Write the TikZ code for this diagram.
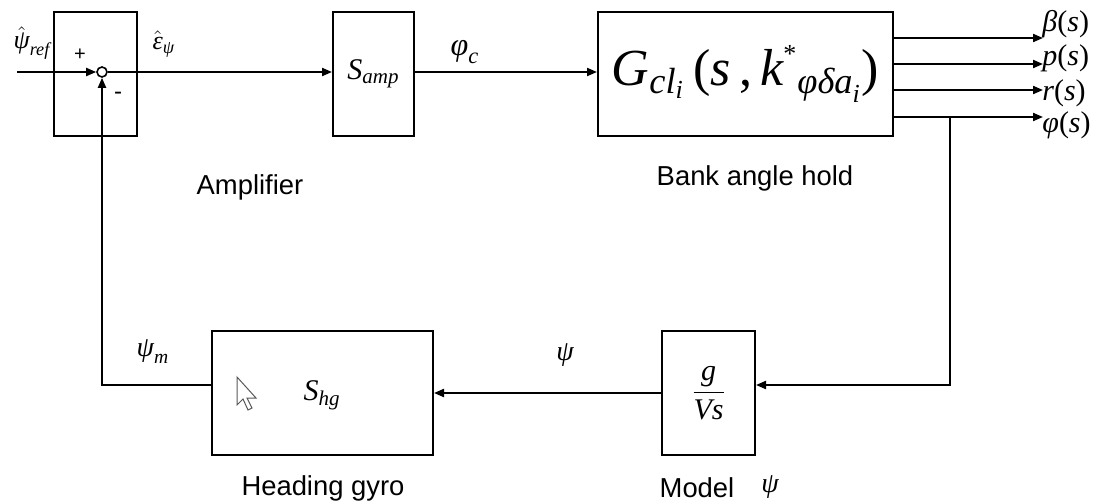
\documentclass[tikz,border=0pt]{standalone}
\usepackage{amsmath}
\usepackage{fontspec}
\setmainfont{Liberation Sans}
\newfontfamily\tms{Liberation Serif}
\newcommand\mi[1]{\text{\tms\itshape #1}}
\newcommand\mr[1]{\text{\tms #1}}
\usetikzlibrary{arrows.meta}
\begin{document}
\begin{tikzpicture}[x=0.5pt,y=-0.5pt,
  blk/.style={draw,line width=1pt,inner sep=0pt,minimum height=62pt},
  arr/.style={line width=1pt,-{Triangle[length=5pt,width=4pt]}},
  lbl/.style={inner sep=0pt,font=\fontsize{13.7}{16}\selectfont},
  mlbl/.style={inner sep=0pt,font=\fontsize{13}{15}\selectfont},
  olbl/.style={inner sep=0pt,anchor=west,font=\fontsize{15}{17}\selectfont}]
\useasboundingbox (0,0) rectangle (1105,504);
% blocks
\node[blk,minimum width=41.5pt] (sumbox) at (95.5,74) {};
\node[draw,circle,line width=0.8pt,minimum size=5pt,inner sep=0pt,fill=white] (sum) at (102,72) {};
\node[blk,minimum width=40.5pt] (amp) at (373.5,74) {\fontsize{15}{17}\selectfont$\mi{S}_{\mi{amp}}$};
\node[blk,minimum width=147.5pt] (G) at (745.5,74) {\fontsize{26}{30}\selectfont$\mi{G}_{\mi{cl}_{\mi{i}}}\,\mr{(}\mi{s}\,\mr{,}\,\mi{k}^{\text{\tms\fontsize{13}{13}\selectfont *}}{}_{\mi{φδa}_{\mi{i}}}\mr{)}$};
\node[blk,minimum width=46.5pt] (model) at (708.5,393) {\fontsize{15}{17}\selectfont$\dfrac{\mi{g}}{\mi{Vs}}$};
\node[blk,minimum width=110.5pt] (shg) at (322.5,393) {};
\node[inner sep=0pt] (shgtxt) at (322,395) {\fontsize{15}{17}\selectfont$\mi{S}_{\mi{hg}}$};
% coordinates
\coordinate (in) at (17,72);
\coordinate (o1) at (1043,38);
\coordinate (o2) at (1043,64);
\coordinate (o3) at (1043,90);
\coordinate (o4) at (1043,117);
\coordinate (br) at (950,117);
\coordinate (brd) at (950,385);
\coordinate (fb) at (102,385);
% connectors
\draw[arr] (in) -- (sum.west);
\draw[arr] (sum.east) -- (amp.west |- sum.east);
\draw[arr] (amp.east |- 0,72) -- (G.west |- 0,72);
\draw[arr] (G.east |- o1) -- (o1);
\draw[arr] (G.east |- o2) -- (o2);
\draw[arr] (G.east |- o3) -- (o3);
\draw[arr] (G.east |- o4) -- (o4);
\draw[arr] (br) -- (brd) -- (model.east |- brd);
\draw[arr] (model.west) -- (shg.east);
\draw[arr] (shg.west |- fb) -- (fb) -- (sum.south);
% labels
\node[mlbl] (lref) at (32,43) {$\hat{\mi{ψ}}_{\mi{ref}}$};
\node[inner sep=0pt,font=\fontsize{10}{12}\selectfont] (plus) at (80,55) {+};
\node[inner sep=0pt,font=\fontsize{12}{12}\selectfont] (minus) at (118,96) {-};
\node[mlbl] (leps) at (164,44) {$\hat{\mi{ε}}_{\mi{ψ}}$};
\node[inner sep=0pt,font=\fontsize{16}{18}\selectfont] (lphic) at (465,52) {$\mi{φ}_{\mi{c}}$};
\node[lbl] (lamp) at (250,187) {Amplifier};
\node[lbl] (lbank) at (755,178) {Bank angle hold};
\node[olbl] (lb) at (1042,24) {$\mi{β}\mr{(}\mi{s}\mr{)}$};
\node[olbl] (lp) at (1042,58) {$\mi{p}\mr{(}\mi{s}\mr{)}$};
\node[olbl] (lr) at (1042,93) {$\mi{r}\mr{(}\mi{s}\mr{)}$};
\node[olbl] (lf) at (1042,125) {$\mi{φ}\mr{(}\mi{s}\mr{)}$};
\node[mlbl,font=\fontsize{14}{16}\selectfont] (lpsim) at (153,352) {$\mi{ψ}_{\mi{m}}$};
\node[mlbl,font=\fontsize{14}{16}\selectfont] (lpsi) at (565,355) {$\mi{ψ}$};
\node[lbl] (lhg) at (323,488) {Heading gyro};
\node[lbl] (lmodel) at (697,488) {Model};
\node[mlbl,font=\fontsize{14}{16}\selectfont] (lmpsi) at (770,487) {$\mi{ψ}$};
% cursor
\draw[gray!70!black,line width=0.5pt,fill=white] (237,377) -- (237,405) -- (243,399) -- (248,410) -- (252,408) -- (247,398) -- (256,398) -- cycle;
\end{tikzpicture}
\end{document}
